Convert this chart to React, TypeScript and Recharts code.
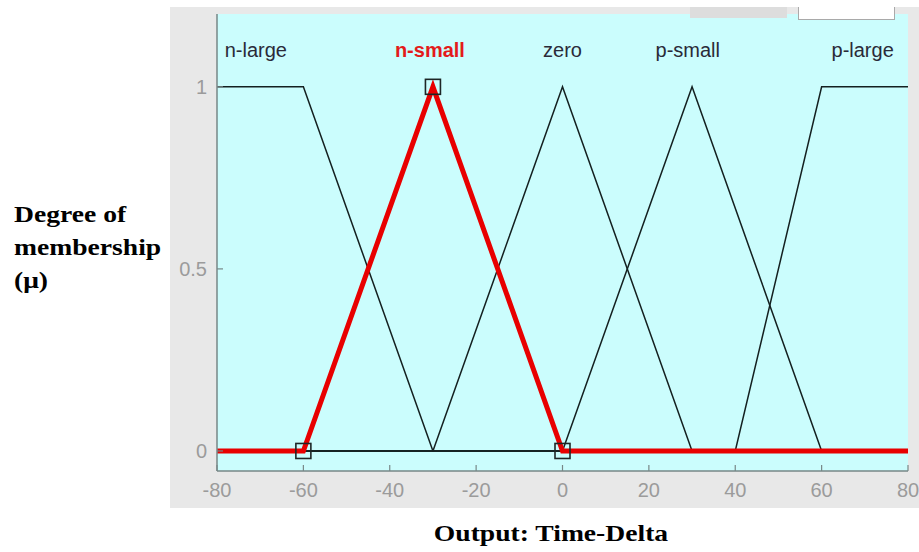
import { ComposedChart, Line, Scatter, XAxis, YAxis, CartesianGrid } from 'recharts'

// membership functions (x breakpoints / degree)
const nLargeX = [-80, -60, -30, 80]
const nLargeY = [1, 1, 0, 0]
const nSmallX = [-80, -60, -30, 0, 80]
const nSmallY = [0, 0, 1, 0, 0]
const zeroX = [-80, -30, 0, 30, 80]
const zeroY = [0, 0, 1, 0, 0]
const pSmallX = [-80, 0, 30, 60, 80]
const pSmallY = [0, 0, 1, 0, 0]
const pLargeX = [-80, 40, 60, 80]
const pLargeY = [0, 0, 1, 1]

// handles of the selected function
const handleX = [-60, -30, 0]
const handleY = [0, 1, 0]

const mfNames = ['n-large', 'n-small', 'zero', 'p-small', 'p-large']
const labelX = [-71, -30.7, 0, 29, 69.5]
const labelY = 1.1
const selected = 1

const xTicks = [-80, -60, -40, -20, 0, 20, 40, 60, 80]
const yTicks = [0, 0.5, 1]

const zip = (xs: number[], ys: number[]) => xs.map((x, i) => ({ x, y: ys[i] }))

const blackLines = [
  zip(nLargeX, nLargeY),
  zip(zeroX, zeroY),
  zip(pSmallX, pSmallY),
  zip(pLargeX, pLargeY),
]
const redLine = zip(nSmallX, nSmallY)
const handles = zip(handleX, handleY)
const labels = mfNames.map((name, i) => ({ x: labelX[i], y: labelY, name, sel: i === selected }))

const BORDER = '#778787'
const TICK_TEXT = '#9b9b9b'
const SANS = '"Liberation Sans", Arial, sans-serif'

const BottomTick = ({ x, y, payload }: any) => (
  <g>
    <line x1={x} x2={x} y1={y} y2={y - 6} stroke={BORDER} strokeWidth={1.2} />
    <text x={x} y={y + 26} textAnchor="middle" fill={TICK_TEXT} fontSize={20} fontFamily={SANS}>
      {payload.value}
    </text>
  </g>
)

const TopTick = ({ x, y }: any) => (
  <line x1={x} x2={x} y1={y} y2={y + 6} stroke={BORDER} strokeWidth={1.2} />
)

const LeftTick = ({ x, y, payload }: any) => (
  <g>
    <line x1={x} x2={x + 6} y1={y} y2={y} stroke={BORDER} strokeWidth={1.2} />
    <text x={x - 10} y={y + 7} textAnchor="end" fill={TICK_TEXT} fontSize={20} fontFamily={SANS}>
      {payload.value}
    </text>
  </g>
)

const RightTick = ({ x, y }: any) => (
  <line x1={x} x2={x - 6} y1={y} y2={y} stroke={BORDER} strokeWidth={1.2} />
)

const Handle = ({ cx, cy }: any) => (
  <rect x={cx - 7.5} y={cy - 7.5} width={15} height={15} fill="none" stroke="#1e2626" strokeWidth={1.6} />
)

const MfLabel = ({ cx, cy, payload }: any) => (
  <text
    x={cx}
    y={cy + 7}
    textAnchor="middle"
    fontSize={20}
    fontFamily={SANS}
    fontWeight={payload.sel ? 'bold' : 'normal'}
    fill={payload.sel ? '#e31b1b' : '#2a2a38'}
  >
    {payload.name}
  </text>
)

export default function App() {
  return (
    <div style={{ position: 'absolute', left: 0, top: 0, width: 919, height: 552, background: '#fff', overflow: 'hidden' }}>
      <div style={{ position: 'absolute', left: 170, top: 7, width: 749, height: 501, background: '#e8e8e8' }} />
      <div style={{ position: 'absolute', left: 0, top: 0 }}>
        <ComposedChart width={919} height={552} margin={{ top: 14, right: 11, bottom: 51, left: 177 }}>
          <CartesianGrid xAxisId="b" yAxisId="l" horizontal={false} vertical={false} fill="#cbfdfd" />
          <XAxis
            xAxisId="b"
            dataKey="x"
            type="number"
            domain={[-80, 80]}
            ticks={xTicks}
            height={30}
            tickSize={0}
            tickMargin={0}
            tickLine={false}
            axisLine={{ stroke: BORDER, strokeWidth: 1.5 }}
            tick={<BottomTick />}
            interval={0}
          />
          <XAxis
            xAxisId="t"
            orientation="top"
            dataKey="x"
            type="number"
            domain={[-80, 80]}
            ticks={xTicks}
            height={0}
            tickSize={0}
            tickMargin={0}
            tickLine={false}
            axisLine={{ stroke: BORDER, strokeWidth: 1.5 }}
            tick={<TopTick />}
            interval={0}
          />
          <YAxis
            yAxisId="l"
            type="number"
            domain={[-0.055, 1.2]}
            ticks={yTicks}
            width={40}
            tickSize={0}
            tickMargin={0}
            tickLine={false}
            axisLine={{ stroke: BORDER, strokeWidth: 1.5 }}
            tick={<LeftTick />}
            interval={0}
          />
          <YAxis
            yAxisId="r"
            orientation="right"
            type="number"
            domain={[-0.055, 1.2]}
            ticks={yTicks}
            width={0}
            tickSize={0}
            tickMargin={0}
            tickLine={false}
            axisLine={{ stroke: BORDER, strokeWidth: 1.5 }}
            tick={<RightTick />}
            interval={0}
          />
          {blackLines.map((d, i) => (
            <Line
              key={i}
              xAxisId="b"
              yAxisId="l"
              data={d}
              dataKey="y"
              type="linear"
              stroke="#142020"
              strokeWidth={1.5}
              dot={false}
              activeDot={false}
              isAnimationActive={false}
            />
          ))}
          <Line
            xAxisId="b"
            yAxisId="l"
            data={redLine}
            dataKey="y"
            type="linear"
            stroke="#e80000"
            strokeWidth={5}
            dot={false}
            activeDot={false}
            isAnimationActive={false}
          />
          <Scatter xAxisId="b" yAxisId="l" data={handles} dataKey="y" shape={<Handle />} isAnimationActive={false} />
          <Scatter xAxisId="b" yAxisId="l" data={labels} dataKey="y" shape={<MfLabel />} isAnimationActive={false} />
        </ComposedChart>
      </div>
      {/* bits of the editor window poking over the top border */}
      <div style={{ position: 'absolute', left: 690, top: 7, width: 97, height: 11, background: '#dddddd' }} />
      <div style={{ position: 'absolute', left: 798, top: 7, width: 97, height: 13, background: '#fff', border: '1px solid #a9a9a9', borderTop: 'none', boxSizing: 'border-box' }} />
      <div
        style={{
          position: 'absolute',
          left: 14,
          top: 198,
          fontFamily: '"Liberation Serif", "Times New Roman", serif',
          fontWeight: 'bold',
          fontSize: 23,
          lineHeight: '33px',
          color: '#000',
          transform: 'scaleX(1.2)',
          transformOrigin: 'left top',
          whiteSpace: 'nowrap',
        }}
      >
        Degree of
        <br />
        membership
        <br />
        (μ)
      </div>
      <div
        style={{
          position: 'absolute',
          left: 351,
          top: 517,
          width: 400,
          textAlign: 'center',
          fontFamily: '"Liberation Serif", "Times New Roman", serif',
          fontWeight: 'bold',
          fontSize: 23,
          lineHeight: '33px',
          color: '#000',
          transform: 'scaleX(1.2)',
          transformOrigin: 'center top',
          whiteSpace: 'nowrap',
        }}
      >
        Output: Time-Delta
      </div>
    </div>
  )
}
